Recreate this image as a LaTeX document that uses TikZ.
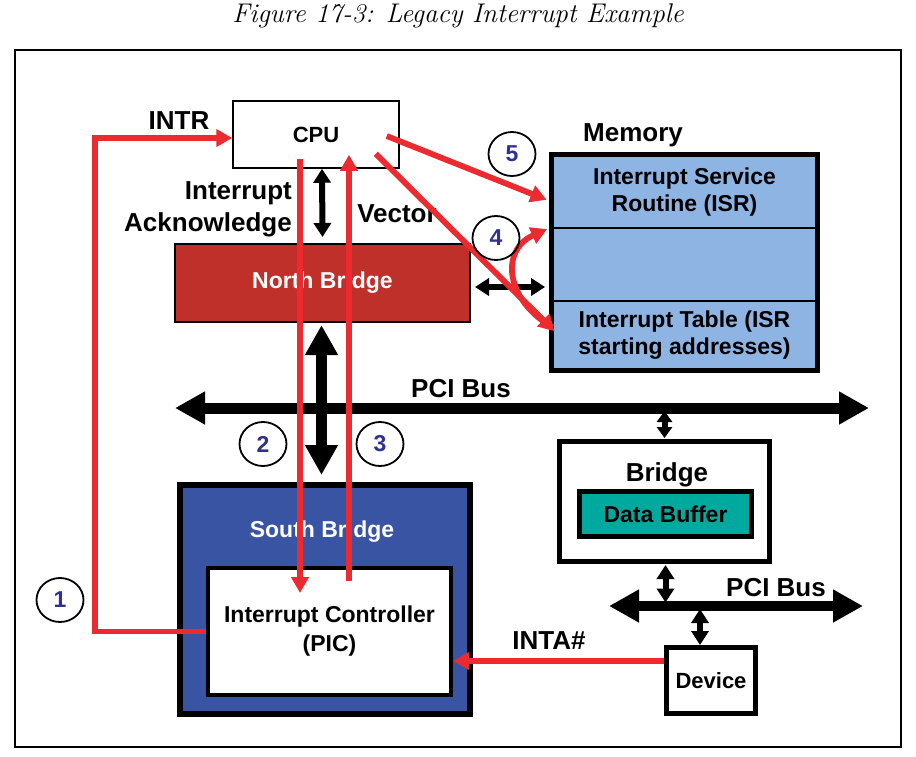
\documentclass[tikz,border=0pt]{standalone}
\usepackage{fontspec}
\setsansfont{Liberation Sans}
\usetikzlibrary{arrows.meta,shapes.geometric,fit}
\definecolor{ired}{HTML}{EC2A2F}
\definecolor{nbred}{HTML}{C0302B}
\definecolor{memblue}{HTML}{8EB4E3}
\definecolor{sbblue}{HTML}{3A54A4}
\definecolor{tealbuf}{HTML}{00A99D}
\definecolor{numblue}{HTML}{2E3192}
\tikzset{
  box/.style={draw=black, inner sep=0pt, align=center, font=\sffamily\bfseries\fontsize{23}{28}\selectfont},
  memsec/.style={box, fill=memblue, minimum width=264pt, line width=1.8pt, font=\sffamily\bfseries\fontsize{23}{27}\selectfont},
  lbl/.style={inner sep=0pt, align=center, font=\sffamily\bfseries\fontsize{26}{32}\selectfont},
  lblsm/.style={inner sep=0pt, align=center, font=\sffamily\bfseries\fontsize{23}{28}\selectfont},
  num/.style={ellipse, draw=black, line width=1.8pt, minimum width=47pt, minimum height=44pt, inner sep=0pt, text=numblue, font=\sffamily\bfseries\fontsize{23}{26}\selectfont},
  redarrow/.style={draw=ired, line width=5.8pt, -{Triangle[length=16pt,width=17pt]}},
  dbl/.style={draw=black, line width=6pt, {Triangle[length=14pt,width=17pt]}-{Triangle[length=14pt,width=17pt]}},
  dblshort/.style={draw=black, line width=6pt, {Triangle[length=11pt,width=15pt]}-{Triangle[length=11pt,width=15pt]}},
  bus/.style={draw=black, line width=11pt, {Triangle[length=30pt,width=31pt]}-{Triangle[length=30pt,width=31pt]}},
}
\begin{document}
\begin{tikzpicture}[x=1pt,y=-1pt]
\useasboundingbox (0,0) rectangle (916,756);
\fill[white] (0,0) rectangle (916,756);
% title and frame
\node[inner sep=0pt, font=\itshape\fontsize{27}{32}\selectfont] (title) at (458,16) {Figure 17-3: Legacy Interrupt Example};
\node[draw=black, line width=1.5pt, minimum width=886pt, minimum height=697pt, inner sep=0pt] (frame) at (458,398.5) {};
% boxes
\node[box, line width=1.5pt, minimum width=166pt, minimum height=67pt, font=\sffamily\bfseries\fontsize{22}{26}\selectfont] (cpu) at (316,134.5) {CPU};
\node[box, fill=nbred, line width=2pt, minimum width=295pt, minimum height=78pt, text=white] (nb) at (322.5,283) {North Bridge};
\node[memsec, minimum height=72.5pt] (isr) at (684.5,191.75) {Interrupt Service\\Routine (ISR)};
\node[memsec, minimum height=73pt] (mid) at (684.5,264.5) {};
\node[memsec, minimum height=68.5pt] (itab) at (684.5,335.25) {Interrupt Table (ISR\\starting addresses)};
\node[draw=black, line width=5pt, inner sep=0pt, fit=(isr)(mid)(itab)] (mem) {};
\node[box, fill=sbblue, line width=6pt, minimum width=290pt, minimum height=229pt] (sb) at (325,599.5) {};
\node[lblsm, text=white] (sbl) at (322,532) {South Bridge};
\node[box, fill=white, line width=4pt, minimum width=243pt, minimum height=127pt, font=\sffamily\bfseries\fontsize{23}{29}\selectfont] (pic) at (329.5,631.5) {Interrupt Controller\\(PIC)};
\node[box, fill=white, line width=5pt, minimum width=210pt, minimum height=120pt] (bridge) at (664.5,501.5) {};
\node[lbl] (bridgel) at (667,475) {Bridge};
\node[box, fill=tealbuf, line width=5pt, minimum width=172pt, minimum height=45pt] (buf) at (665.5,514) {Data Buffer};
\node[box, fill=white, line width=5pt, minimum width=89pt, minimum height=66pt, font=\sffamily\bfseries\fontsize{22}{26}\selectfont] (dev) at (711,680.5) {Device};
% labels
\node[lbl] (intr) at (179,121) {INTR};
\node[lbl, align=right, anchor=east] (ack) at (292,209) {Interrupt\\Acknowledge};
\node[lbl] (vector) at (397,214) {Vector};
\node[lbl] (memlbl) at (633,135) {Memory};
\node[lbl] (pcil1) at (461,389) {PCI Bus};
\node[lbl] (pcil2) at (776,588) {PCI Bus};
\node[lbl] (inta) at (549,641) {INTA\#};
% buses
\coordinate (pciL) at (175,408);
\coordinate (pciR) at (869,408);
\coordinate (pci2L) at (609,606);
\coordinate (pci2R) at (863,606);
\draw[bus] (pciL) -- (pciR);
\draw[bus, line width=10pt] (pci2L) -- (pci2R);
\draw[bus] ([xshift=-1pt,yshift=-2pt]nb.south) -- ([xshift=-3.5pt,yshift=7pt]sb.north);
% black double arrows
\draw[dbl] ([xshift=6pt]cpu.south) -- ([yshift=6pt]nb.north);
\path ([xshift=4pt,yshift=-4pt]nb.east) coordinate (nbe);
\path (nbe -| mem.west) ++(-4,0) coordinate (meme);
\draw[dbl] (nbe) -- (meme);
\draw[dblshort] ([yshift=28pt]bridge.north) -- ([yshift=1pt]bridge.north);
\draw[dbl] ([xshift=1pt,yshift=-1pt]bridge.south) -- ([xshift=1pt,yshift=-38.5pt]bridge.south);
\draw[dbl] ([xshift=-11pt,yshift=36pt]dev.north) -- ([xshift=-11pt]dev.north);
% red arrows
\draw[redarrow] (pic.west) -- ++(-111,0) |- ([yshift=-3.5pt]cpu.west);
\draw[redarrow] ([xshift=-16pt,yshift=10pt]cpu.south) -- ([xshift=-29.5pt,yshift=-27pt]pic.north);
\draw[redarrow] ([xshift=19.5pt,yshift=-15pt]pic.north) -- ([xshift=33pt,yshift=14pt]cpu.south);
\draw[redarrow] ([xshift=-13pt,yshift=-1.5pt]cpu.east) -- ([xshift=-5pt,yshift=-8pt]isr.west);
\draw[redarrow] ([xshift=-24pt,yshift=15pt]cpu.south east) -- ([xshift=3pt,yshift=4pt]itab.west);
\draw[redarrow] ([xshift=1pt,yshift=8pt]itab.west) .. controls (505,300) and (500,250) .. ([xshift=-4.5pt,yshift=-2pt]mid.north west);
\path ([yshift=19.5pt]dev.west) coordinate (dvw);
\draw[redarrow] (dvw) -- (dvw -| pic.east);
% step numbers
\node[num] (c1) at (60,600) {1};
\node[num] (c2) at (263,444) {2};
\node[num] (c3) at (380,444) {3};
\node[num] (c4) at (496,238) {4};
\node[num] (c5) at (512,154) {5};
\end{tikzpicture}
\end{document}
